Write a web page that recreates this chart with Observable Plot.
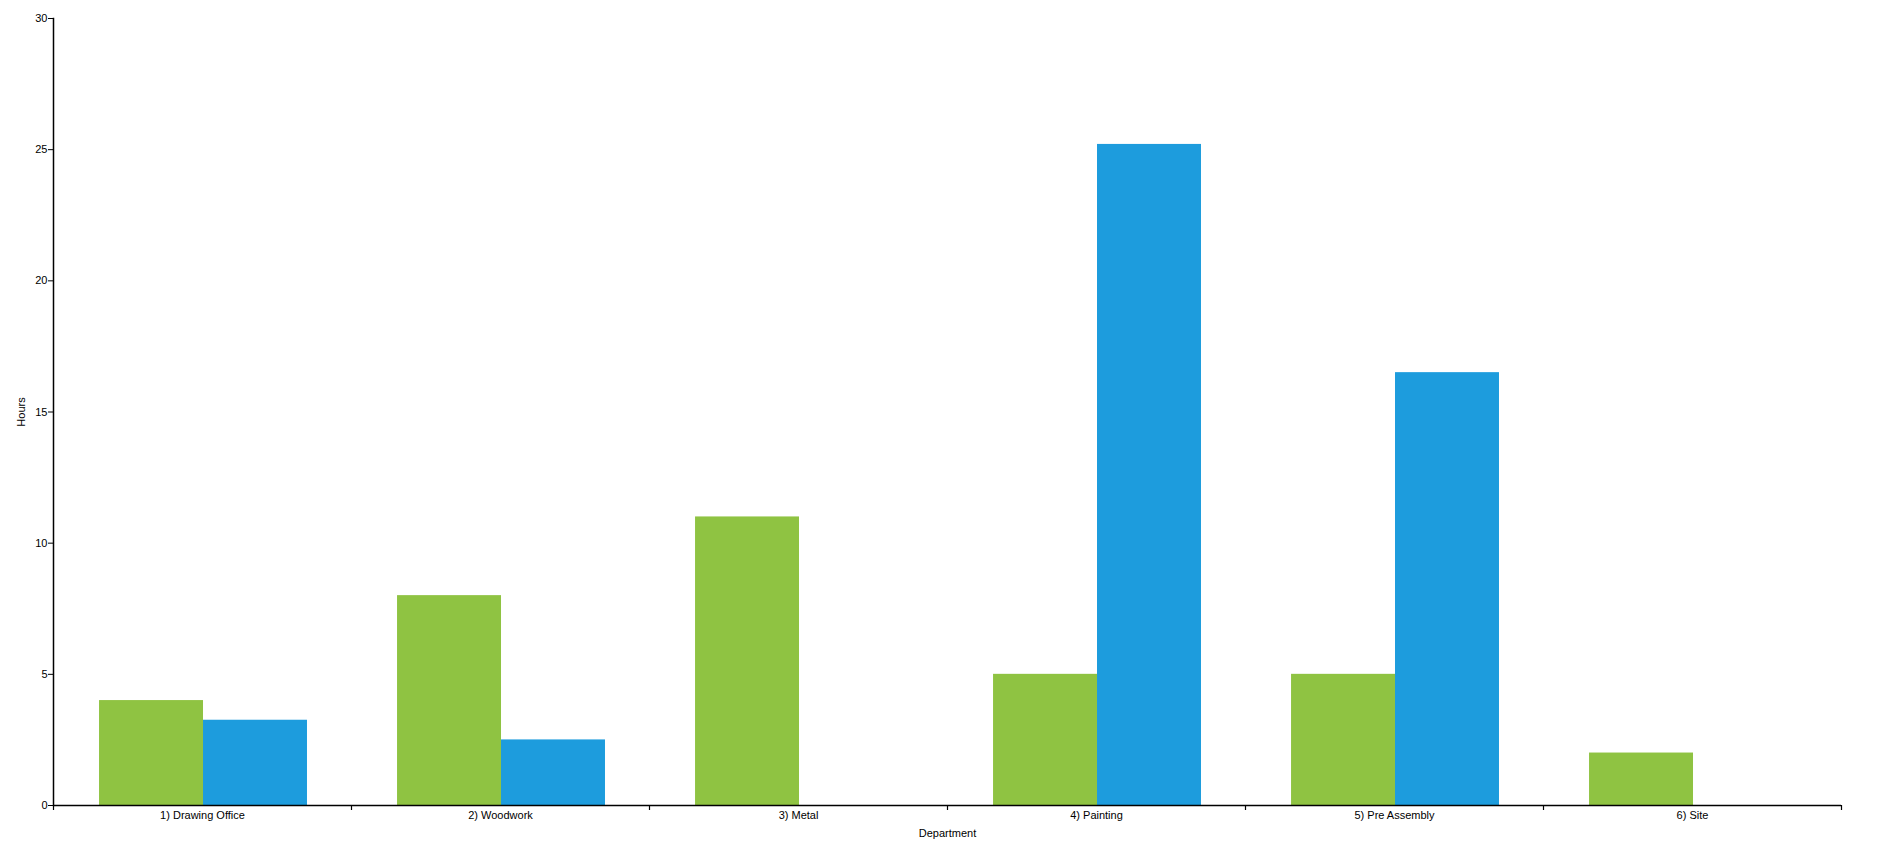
<!DOCTYPE html>
<html>
<head>
<meta charset="utf-8">
<script src="https://cdn.jsdelivr.net/npm/d3@7"></script>
<script src="https://cdn.jsdelivr.net/npm/@observablehq/plot@0.6"></script>
<style>
  html, body { margin: 0; padding: 0; background: #fff; }
  #chart svg { display: block; }
</style>
</head>
<body>
<div id="chart"></div>
<script>
const departments = ["1) Drawing Office", "2) Woodwork", "3) Metal", "4) Painting", "5) Pre Assembly", "6) Site"];
const seriesNames = ["Estimated", "Actual"];
const estimatedHours = [4, 8, 11, 5, 5, 2];
const actualHours = [3.25, 2.5, null, 25.2, 16.5, null];
const yTicks = [0, 5, 10, 15, 20, 25, 30];
const colors = ["#8FC342", "#1D9CDD"];

const W = 1894, H = 850;
const mL = 53, mR = 53, mT = 18, mB = 45;
const bw = (W - mL - mR) / departments.length;

const rows = [];
departments.forEach((d, i) => {
  rows.push({department: d, series: seriesNames[0], hours: estimatedHours[i]});
  rows.push({department: d, series: seriesNames[1], hours: actualHours[i]});
});
const est = rows.filter(r => r.series === seriesNames[0] && r.hours != null);
const act = rows.filter(r => r.series === seriesNames[1] && r.hours != null);

const chart = Plot.plot({
  width: W,
  height: H,
  marginLeft: mL,
  marginRight: mR,
  marginTop: mT,
  marginBottom: mB,
  style: {fontFamily: "'Liberation Sans', Arial, sans-serif", fontSize: "11px", color: "#000", background: "#fff"},
  x: {domain: departments, padding: 0},
  y: {domain: [0, 30]},
  color: {domain: seriesNames, range: colors},
  marks: [
    Plot.barY(est, {x: "department", y: "hours", fill: "series", insetLeft: bw * 0.1545, insetRight: bw * 0.4966}),
    Plot.barY(act, {x: "department", y: "hours", fill: "series", insetLeft: bw * 0.5034, insetRight: bw * 0.1477}),
    Plot.ruleY([0], {stroke: "#000", strokeWidth: 1.5}),
    Plot.frame({anchor: "left", stroke: "#000", strokeWidth: 1.5}),
    Plot.axisY({ticks: yTicks, tickSize: 5, tickPadding: 1, fontSize: 11, label: "Hours", labelAnchor: "center", labelArrow: "none", labelOffset: 36, stroke: "#000", strokeOpacity: 1}),
    Plot.axisX({tickSize: 0, tickPadding: 6, fontSize: 11, label: "Department", labelAnchor: "center", labelArrow: "none", labelOffset: 31}),
    Plot.axisX({ticks: departments, tickSize: 5, text: null, label: null, dx: -bw / 2, stroke: "#000", strokeOpacity: 1, strokeWidth: 1.2}),
    Plot.axisX({ticks: departments.slice(-1), tickSize: 5, text: null, label: null, dx: bw / 2, stroke: "#000", strokeOpacity: 1, strokeWidth: 1.2})
  ]
});
document.getElementById("chart").appendChild(chart);
</script>
</body>
</html>
